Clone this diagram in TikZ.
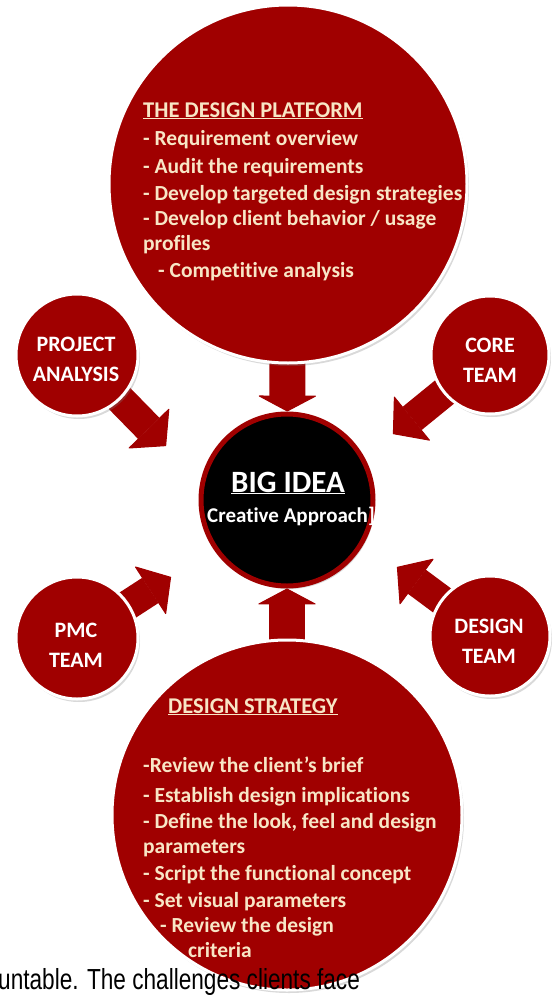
\documentclass[tikz,border=0pt]{standalone}
\usepackage{fontspec}
\usepackage{graphicx}
\setmainfont[Ligatures=NoCommon]{Carlito}
\newfontfamily\captionfont{Liberation Sans}
\usetikzlibrary{arrows.meta,shadows,backgrounds}
\definecolor{ideared}{RGB}{160,0,0}
\definecolor{cream}{RGB}{248,230,198}
\begin{document}
\begin{tikzpicture}[x=1pt,y=-1pt,
    bubble/.style ={circle, fill=ideared, draw=white, line width=3pt,
      drop shadow={shadow xshift=2pt, shadow yshift=-3pt, opacity=0.3}},
    bigarrow/.style ={ideared, line width=30pt,
      -{Triangle[width=58pt, length=25pt, line width=1pt, round]}},
    flatarrow/.style ={ideared, line width=36pt,
      -{Triangle[width=60pt, length=16pt, line width=1pt, round]}},
    item/.style ={anchor=base west, inner sep=0pt, text=cream,
      font=\bfseries\fontsize{21.5}{24}\selectfont},
    heading/.style ={item, font=\bfseries\fontsize{22.5}{24}\selectfont},
    team/.style ={align=center, inner sep=0pt, text=white,
      font=\bfseries\fontsize{22}{30}\selectfont}]
   \useasboundingbox (0,0) rectangle (552,996);
   \node[bubble, minimum size=358pt] (platform) at (288,184) {};
   \node[bubble, minimum size=350pt] (strategy) at (287,815) {};
   \node[bubble, minimum size=122pt] (analysis) at (77,355) {};
   \node[bubble, minimum size=118pt] (core) at (490,355) {};
   \node[bubble, minimum size=122pt] (pmc) at (77,638) {};
   \node[bubble, minimum size=120pt] (designteam) at (490,636) {};
   \node[circle, fill=black, draw=ideared, line width=5pt, minimum size=172pt,
     drop shadow={shadow xshift=2pt, shadow yshift=-3pt, opacity=0.3}] (idea) at (287,500) {};
   \coordinate (analysisTip) at (166,446);
   \coordinate (coreTip) at (393,434);
   \coordinate (pmcTip) at (171,577);
   \coordinate (designTip) at (397,567);
   % arrows behind the circles
   \begin{scope}[on background layer]
     \draw[flatarrow] (platform.center) -- (idea);
     \draw[flatarrow] (strategy.center) -- (idea);
     \draw[bigarrow] (analysis.center) -- (analysisTip);
     \draw[bigarrow] (core.center) -- (coreTip);
     \draw[bigarrow] (pmc.center) -- (pmcTip);
     \draw[bigarrow] (designteam.center) -- (designTip);
   \end{scope}
   % the design platform
   \node[heading] (platformTitle) at (143,117) {\underline{THE DESIGN PLATFORM}};
   \foreach \x/\y/\t [count=\i] in {143/145/{- Requirement overview},
       143/173/{- Audit the requirements},
       143/200/{- Develop targeted design strategies},
       143/225/{- Develop client behavior / usage},
       143/250/{profiles},
       158/277/{- Competitive analysis}}
     \node[item] (platform\i) at (\x,\y) {\t};
   % design strategy
   \node[heading] (strategyTitle) at (168,713) {\underline{DESIGN STRATEGY}};
   \foreach \x/\y/\t [count=\i] in {143/772/{-Review the client’s brief},
       143/802/{- Establish design implications},
       143/828/{- Define the look, feel and design},
       143/853/{parameters},
       143/880/{- Script the functional concept},
       143/907/{- Set visual parameters},
       160/932/{- Review the design},
       188/957/{criteria}}
     \node[item] (strategy\i) at (\x,\y) {\t};
   % big idea
   \node[anchor=base, inner sep=0pt, text=white, font=\bfseries\fontsize{31}{32}\selectfont]
     (ideaTitle) at (288,492) {\underline{BIG IDEA}};
   \node[anchor=base, inner sep=0pt, text=white, font=\bfseries\fontsize{21}{22}\selectfont]
     (ideaText) at (291,522) {Creative Approach]};
   % teams
   \node[team] (analysisText) at (76,359) {PROJECT\\ANALYSIS};
   \node[team] (coreText) at (490,360) {CORE\\TEAM};
   \node[team] (pmcText) at (76,645) {PMC\\TEAM};
   \node[team] (designText) at (489,641) {DESIGN\\TEAM};
   \node[anchor=base west, inner sep=0pt, font=\captionfont\fontsize{29}{30}\selectfont]
     (caption) at (-2,989) {\scalebox{0.78}[1]{untable. The challenges clients face}};
 \end{tikzpicture}
\end{document}
